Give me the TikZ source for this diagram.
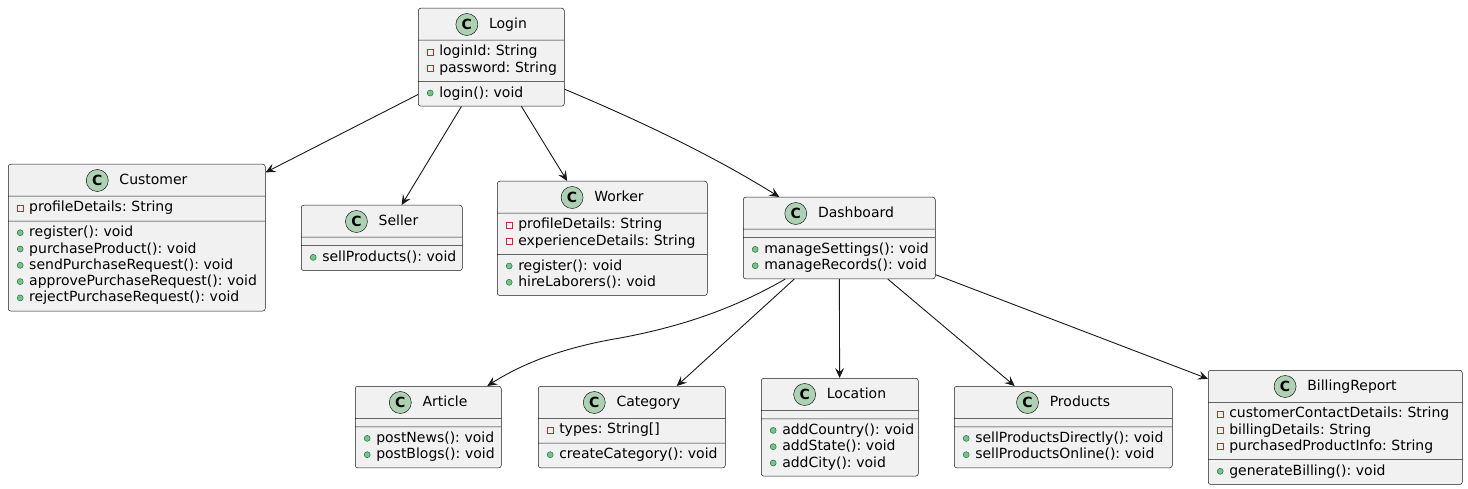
\documentclass[tikz,border=0pt]{standalone}
\usepackage{fontspec}
\setmainfont{DejaVu Sans}
\usetikzlibrary{shapes.multipart,arrows.meta}
\frenchspacing

\definecolor{classbg}{HTML}{F1F1F1}
\definecolor{classline}{HTML}{181818}
\definecolor{spotbg}{HTML}{ADD1B2}
\definecolor{privred}{HTML}{C82930}
\definecolor{pubfill}{HTML}{84BE84}
\definecolor{publine}{HTML}{038048}

% small icons, drawn inside the node texts
\newcommand{\spot}{\tikz[baseline=0pt]\node[circle, anchor=center, text width=, align=center,
    draw=classline, line width=0.5pt, fill=spotbg, inner sep=0pt, minimum size=22pt,
    font=\bfseries\fontsize{14}{14}\selectfont] at (0pt,4.3pt) {C};}
\newcommand{\privicon}{\makebox[17pt][l]{\hspace{4.7pt}\tikz[baseline=0pt]\draw[sharp corners,
    draw=privred, line width=0.8pt] (0pt,1pt) rectangle (6pt,7pt);}}
\newcommand{\pubicon}{\makebox[17pt][l]{\hspace{4.7pt}\tikz[baseline=0pt]\draw[draw=publine,
    fill=pubfill, line width=0.5pt] (3pt,4pt) circle (3pt);}}
\newcommand{\ctitle}[1]{\makebox[\hsize][c]{\rule[-7.2pt]{0pt}{23.5pt}\spot\hspace{11pt}#1}}
\newcommand{\mpriv}[1]{\strut\privicon#1}
\newcommand{\mpub}[1]{\strut\pubicon#1}

\tikzset{
  umlclass/.style={rectangle split, rectangle split parts=3, draw=classline, line width=0.5pt,
    fill=classbg, rounded corners=2.5pt, anchor=north west, align=left,
    inner xsep=4pt, inner ysep=4pt, font=\fontsize{14}{16.3}\selectfont},
  assoc/.style={draw=classline, line width=0.9pt, -{Stealth[length=10pt,width=9pt,inset=4pt]}}
}

\begin{document}
\begin{tikzpicture}[x=1pt, y=-1pt]
    \useasboundingbox (0,0) rectangle (1468,489);

    \node[umlclass, text width=138pt] (login) at (418,8) {\ctitle{Login}
        \nodepart{two} \mpriv{loginId: String}\\ \mpriv{password: String}
        \nodepart{three} \mpub{login(): void}};

    \node[umlclass, text width=249pt] (customer) at (8,164) {\ctitle{Customer}
        \nodepart{two} \mpriv{profileDetails: String}
        \nodepart{three} \mpub{register(): void}\\ \mpub{purchaseProduct(): void}\\
        \mpub{sendPurchaseRequest(): void}\\ \mpub{approvePurchaseRequest(): void}\\
        \mpub{rejectPurchaseRequest(): void}};

    \node[umlclass, text width=153pt] (seller) at (301,205) {\ctitle{Seller}
        \nodepart{two}
        \nodepart{three} \mpub{sellProducts(): void}};

    \node[umlclass, text width=202pt] (worker) at (497,181) {\ctitle{Worker}
        \nodepart{two} \mpriv{profileDetails: String}\\ \mpriv{experienceDetails: String}
        \nodepart{three} \mpub{register(): void}\\ \mpub{hireLaborers(): void}};

    \node[umlclass, text width=184pt] (dashboard) at (743,197) {\ctitle{Dashboard}
        \nodepart{two}
        \nodepart{three} \mpub{manageSettings(): void}\\ \mpub{manageRecords(): void}};

    \node[umlclass, text width=138pt] (article) at (355,386) {\ctitle{Article}
        \nodepart{two}
        \nodepart{three} \mpub{postNews(): void}\\ \mpub{postBlogs(): void}};

    \node[umlclass, text width=179pt] (category) at (538,386) {\ctitle{Category}
        \nodepart{two} \mpriv{types: String[]}
        \nodepart{three} \mpub{createCategory(): void}};

    \node[umlclass, text width=149pt] (location) at (761,378) {\ctitle{Location}
        \nodepart{two}
        \nodepart{three} \mpub{addCountry(): void}\\ \mpub{addState(): void}\\ \mpub{addCity(): void}};

    \node[umlclass, text width=210pt] (products) at (954,386) {\ctitle{Products}
        \nodepart{two}
        \nodepart{three} \mpub{sellProductsDirectly(): void}\\ \mpub{sellProductsOnline(): void}};

    \node[umlclass, text width=246pt] (billing) at (1208,370) {\ctitle{BillingReport}
        \nodepart{two} \mpriv{customerContactDetails: String}\\ \mpriv{billingDetails: String}\\
        \mpriv{purchasedProductInfo: String}
        \nodepart{three} \mpub{generateBilling(): void}};

    \draw[assoc] (login) -- (customer);
    \draw[assoc] (login) -- (seller);
    \draw[assoc] (login) -- (worker);
    \draw[assoc] ([yshift=-32pt]login.east) .. controls (650,125) and (720,160) .. ([xshift=-60pt]dashboard.north);

    \draw[assoc] ([xshift=-54pt]dashboard.south) .. controls (740,305) and (690,325) .. (620,338)
        .. controls (560,348) and (520,365) .. ([xshift=59pt]article.north);
    \draw[assoc] (dashboard) -- (category);
    \draw[assoc] (dashboard) -- (location);
    \draw[assoc] (dashboard) -- (products);
    \draw[assoc] (dashboard) -- (billing);
\end{tikzpicture}
\end{document}
